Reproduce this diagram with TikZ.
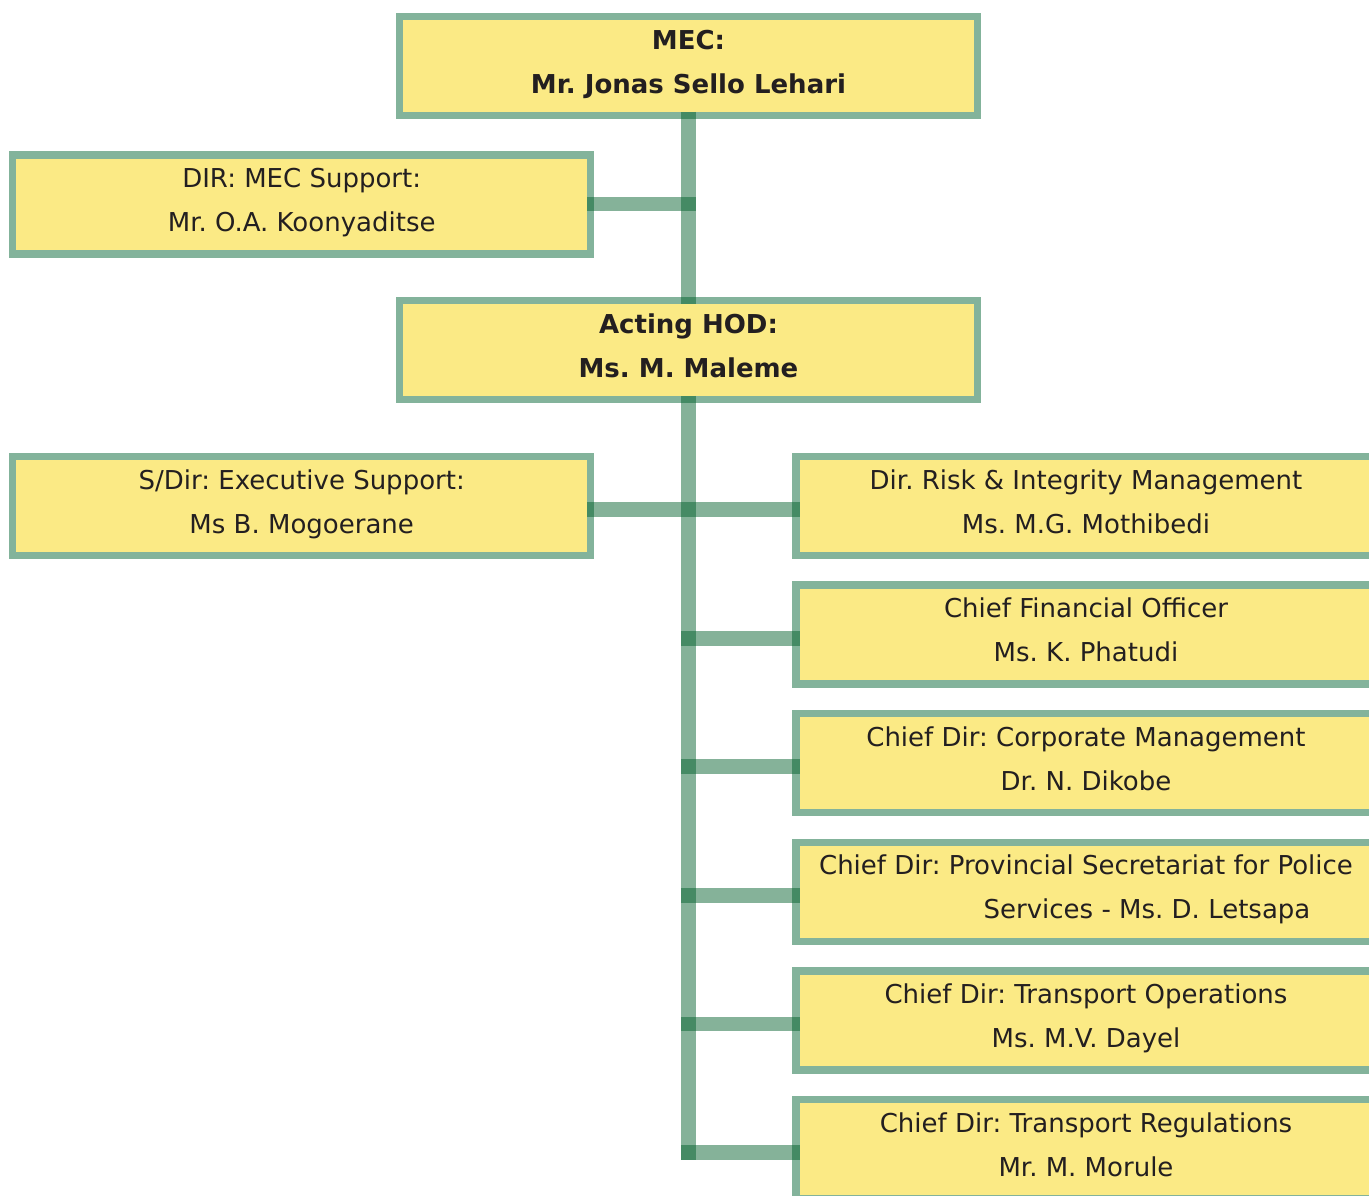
\documentclass[tikz,border=0pt]{standalone}
\usepackage{fontspec}
\setmainfont{DejaVu Sans}
\frenchspacing
\definecolor{boxfill}{RGB}{251,234,133}
\definecolor{boxline}{RGB}{131,179,155}
\definecolor{linkcol}{RGB}{0,94,42}
\definecolor{txt}{RGB}{35,31,32}
\newcommand{\twolines}[2]{\rule{0pt}{22.3pt}#1\\#2\rule[-12pt]{0pt}{12pt}}
\begin{document}
\begin{tikzpicture}[x=1pt,y=-1pt,
  orgbox/.style={draw=boxline, fill=boxfill, line width=7.4pt, inner sep=0pt,
    minimum width=578pt, minimum height=99pt, align=center, text=txt,
    font=\fontsize{26}{44}\selectfont\frenchspacing},
  wide/.style={minimum width=580pt},
  link/.style={draw=linkcol, draw opacity=0.48, line width=14.8pt}]
\useasboundingbox (0,0) rectangle (1369,1195);
% boxes
\node[orgbox] (mec) at (688.5,66) {\twolines{\bfseries MEC:}{\bfseries Mr. Jonas Sello Lehari}};
\node[orgbox] (dir) at (301.7,204.6) {\twolines{DIR: MEC Support:}{Mr. O.A. Koonyaditse}};
\node[orgbox] (hod) at (688.5,350) {\twolines{\bfseries Acting HOD:}{\bfseries Ms. M. Maleme}};
\node[orgbox] (sdir) at (301.7,505.9) {\twolines{S/Dir: Executive Support:}{Ms B. Mogoerane}};
\node[orgbox,wide] (r1) at (1086,505.9) {\twolines{Dir. Risk \& Integrity Management}{Ms. M.G. Mothibedi}};
\node[orgbox,wide] (r2) at (1086,634.5) {\twolines{Chief Financial Officer}{Ms. K. Phatudi}};
\node[orgbox,wide] (r3) at (1086,763.1) {\twolines{Chief Dir: Corporate Management}{Dr. N. Dikobe}};
\node[orgbox,wide] (r4) at (1086,891.7) {\twolines{Chief Dir: Provincial Secretariat for Police}{\hspace*{122pt}Services - Ms. D. Letsapa}};
\node[orgbox,wide] (r5) at (1086,1020.3) {\twolines{Chief Dir: Transport Operations}{Ms. M.V. Dayel}};
\node[orgbox,wide] (r6) at (1086,1148.9) {\twolines{Chief Dir: Transport Regulations}{Mr. M. Morule}};
% junction points
\coordinate (j0) at (688.5,204);
\coordinate (jend) at (688.5,1160);
% connectors
\draw[link] ([yshift=7.4pt]mec.south) -- ([yshift=-7.4pt]hod.north);
\draw[link] ([xshift=-7.4pt]dir.east |- j0) -- ([xshift=7.4pt]j0);
\draw[link] ([yshift=7.4pt]hod.south) -- (jend);
\draw[link] ([xshift=-7.4pt]sdir.east |- 0,509.5) -- ([xshift=7.4pt]r1.west |- 0,509.5);
\draw[link] ([xshift=-7.4pt]688.5,638.1) -- ([xshift=7.4pt]r2.west |- 0,638.1);
\draw[link] ([xshift=-7.4pt]688.5,766.7) -- ([xshift=7.4pt]r3.west |- 0,766.7);
\draw[link] ([xshift=-7.4pt]688.5,895.3) -- ([xshift=7.4pt]r4.west |- 0,895.3);
\draw[link] ([xshift=-7.4pt]688.5,1023.9) -- ([xshift=7.4pt]r5.west |- 0,1023.9);
\draw[link] ([xshift=-7.4pt]688.5,1152.5) -- ([xshift=7.4pt]r6.west |- 0,1152.5);
\end{tikzpicture}
\end{document}
